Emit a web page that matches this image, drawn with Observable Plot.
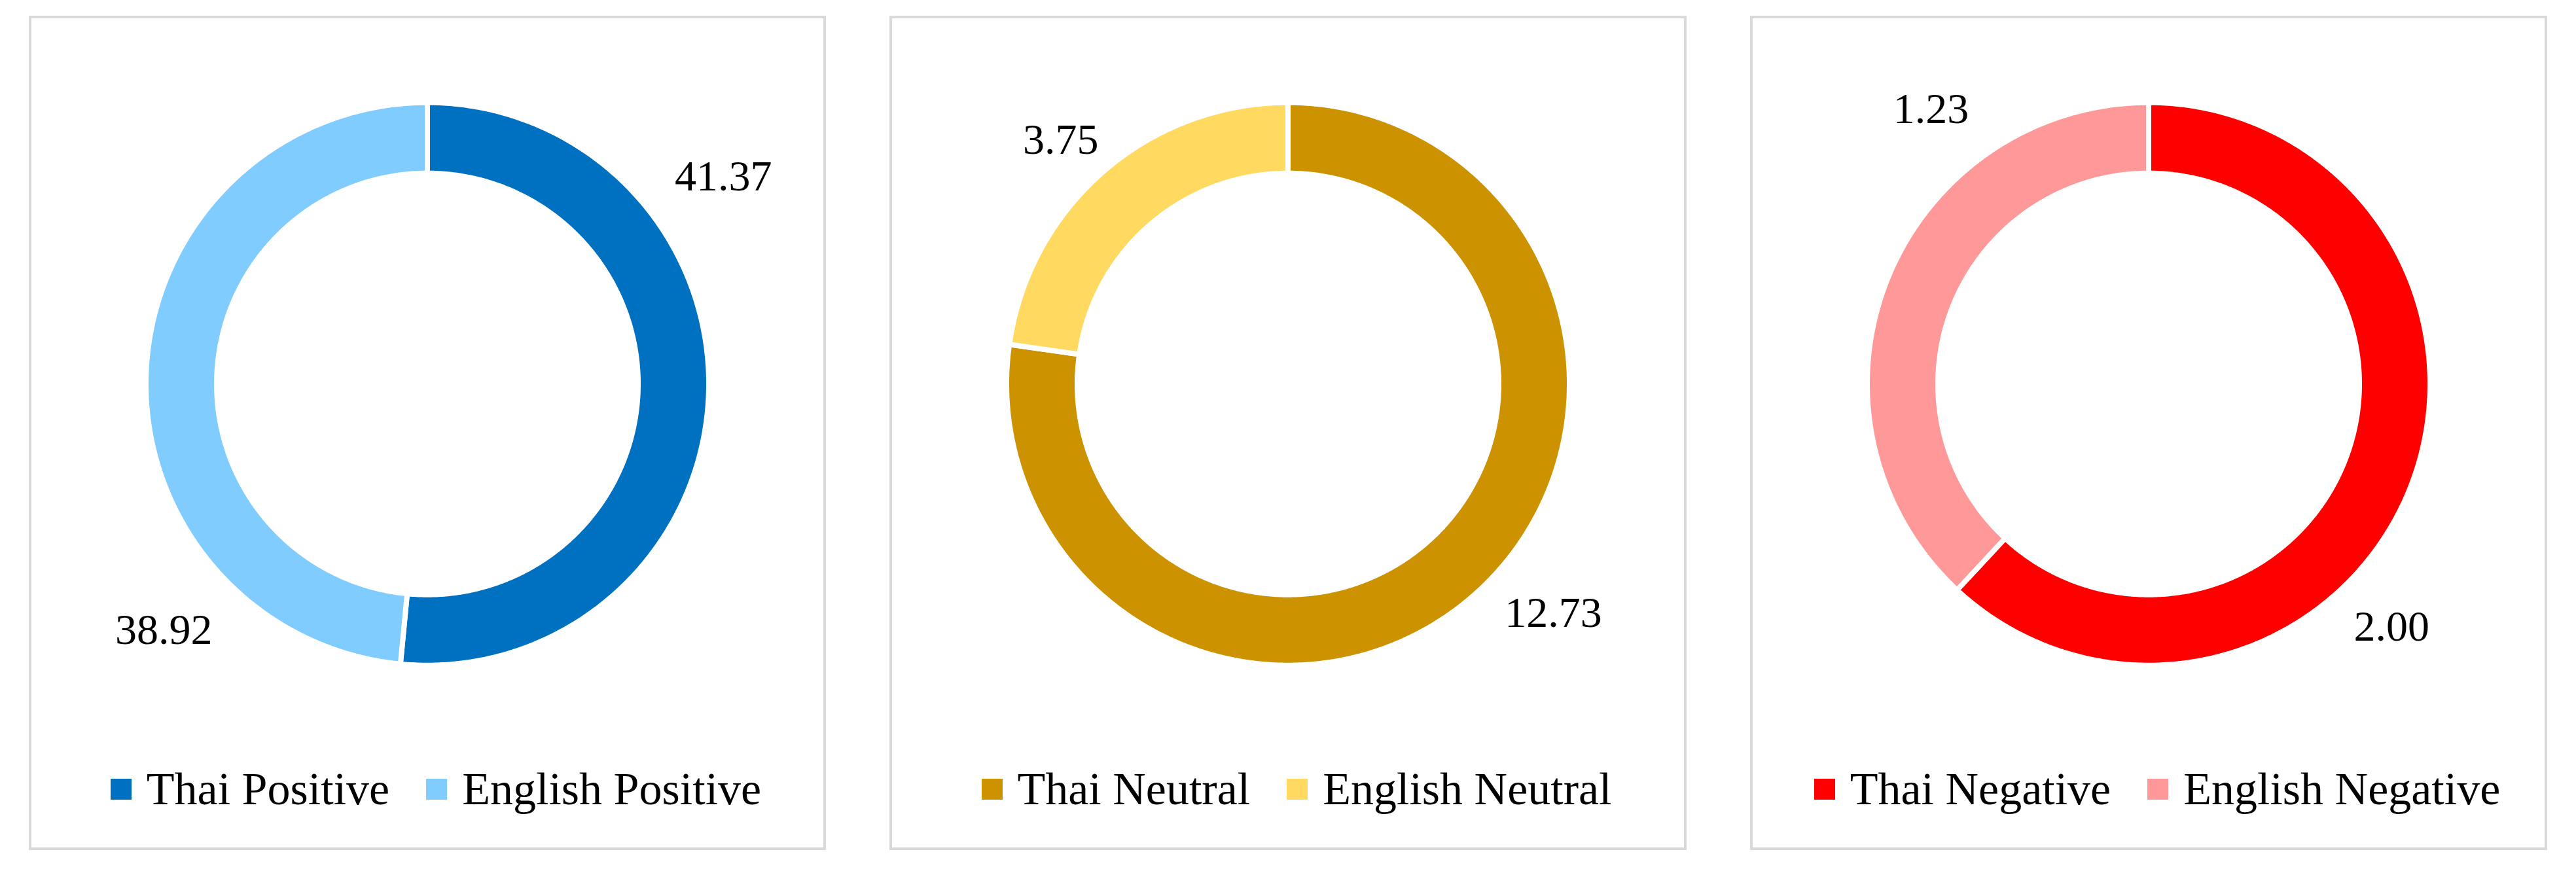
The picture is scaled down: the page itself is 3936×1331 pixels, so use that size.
<!DOCTYPE html>
<html>
<head>
<meta charset="utf-8">
<script src="https://cdn.jsdelivr.net/npm/d3@7"></script>
<script src="https://cdn.jsdelivr.net/npm/@observablehq/plot@0.6"></script>
<style>
  html, body { margin: 0; padding: 0; background: #ffffff; }
  body { width: 3936px; height: 1331px; position: relative; overflow: hidden; }
  .panel {
    position: absolute;
    top: 24px;
    width: 1218px;
    height: 1275px;
    box-sizing: border-box;
    border: 4px solid #d9d9d9;
    background: #ffffff;
  }
  .panel svg { display: block; }
  .panel div.dn-swatches {
    font-family: "Liberation Serif", serif;
    font-size: 70px;
    color: #000000;
    margin: 38px 0 0 0;
    height: 80px;
    min-height: 80px;
    display: flex;
    align-items: center;
    justify-content: center;
    flex-wrap: nowrap;
    gap: 0 56px;
    padding-left: 26px;
  }
  .panel div.dn-swatches span.dn-swatch { margin-right: 0; display: inline-flex; align-items: center; }
  .panel div.dn-swatches span.dn-swatch > svg { margin-right: 23px; }
</style>
</head>
<body>
<script>
// ---- data ----
const panelNames = ["Positive", "Neutral", "Negative"];
const thaiLabels = ["Thai Positive", "Thai Neutral", "Thai Negative"];
const englishLabels = ["English Positive", "English Neutral", "English Negative"];
const thaiValues = [41.37, 12.73, 2.00];
const englishValues = [38.92, 3.75, 1.23];

// ---- styles / layout ----
const thaiColors = ["#0070C0", "#CC9200", "#FF0000"];
const englishColors = ["#80CCFF", "#FFD960", "#FF9999"];
// manual data-label placement (angle clockwise from 12 o'clock, distance in ring radii)
const thaiLabelAngle = [54.9, 130.8, 135.0];
const thaiLabelRadius = [1.296, 1.256, 1.231];
const englishLabelAngle = [227.0, 317.0, 321.6];
const englishLabelRadius = [1.294, 1.197, 1.258];

const panelLeft0 = 44, panelStep = 1315;
const W = 1210, H = 1100;          // svg size (panel inner width)
const unitPx = 426;                // outer radius in px
const cx = 605, cy = 558.7;        // donut centre in svg px
const gap = 8;                     // white separator width
const rOuter = (unitPx + gap / 2) / unitPx;
const rInner = (326 - gap / 2) / unitPx;

panelNames.forEach((p, i) => {
  const names = [thaiLabels[i], englishLabels[i]];
  const values = [thaiValues[i], englishValues[i]];
  const colors = [thaiColors[i], englishColors[i]];
  const total = d3.sum(values);

  // arc sample rows built from the values
  const rows = [];
  let acc = 0;
  values.forEach((v, j) => {
    const a0 = acc / total * 2 * Math.PI;
    acc += v;
    const a1 = acc / total * 2 * Math.PI;
    const n = Math.max(2, Math.ceil((a1 - a0) / (Math.PI / 360)));
    for (let k = 0; k <= n; k++) rows.push({name: names[j], t: a0 + (a1 - a0) * k / n});
  });

  const labels = [
    {text: values[0].toFixed(2), a: thaiLabelAngle[i] * Math.PI / 180, r: thaiLabelRadius[i]},
    {text: values[1].toFixed(2), a: englishLabelAngle[i] * Math.PI / 180, r: englishLabelRadius[i]}
  ];

  const svg = Plot.plot({
    width: W,
    height: H,
    margin: 0,
    x: {domain: [-cx / unitPx, (W - cx) / unitPx], axis: null},
    y: {domain: [-(H - cy) / unitPx, cy / unitPx], axis: null},
    color: {domain: names, range: colors},
    style: {background: "transparent", overflow: "visible"},
    marks: [
      Plot.area(rows, {
        x1: d => rOuter * Math.sin(d.t),
        y1: d => rOuter * Math.cos(d.t),
        x2: d => rInner * Math.sin(d.t),
        y2: d => rInner * Math.cos(d.t),
        z: "name",
        fill: "name",
        stroke: "#ffffff",
        strokeWidth: gap,
        curve: "linear"
      }),
      Plot.text(labels, {
        x: d => d.r * Math.sin(d.a),
        y: d => d.r * Math.cos(d.a),
        text: "text",
        fontSize: 66,
        fontFamily: "Liberation Serif, serif",
        fill: "#000000"
      })
    ]
  });

  const legend = Plot.legend({
    color: {domain: names, range: colors, type: "ordinal"},
    swatchSize: 32,
    className: "dn"
  });

  const panel = document.createElement("div");
  panel.className = "panel";
  panel.style.left = (panelLeft0 + i * panelStep) + "px";
  panel.appendChild(svg);
  panel.appendChild(legend);
  document.body.appendChild(panel);
});
</script>
</body>
</html>
